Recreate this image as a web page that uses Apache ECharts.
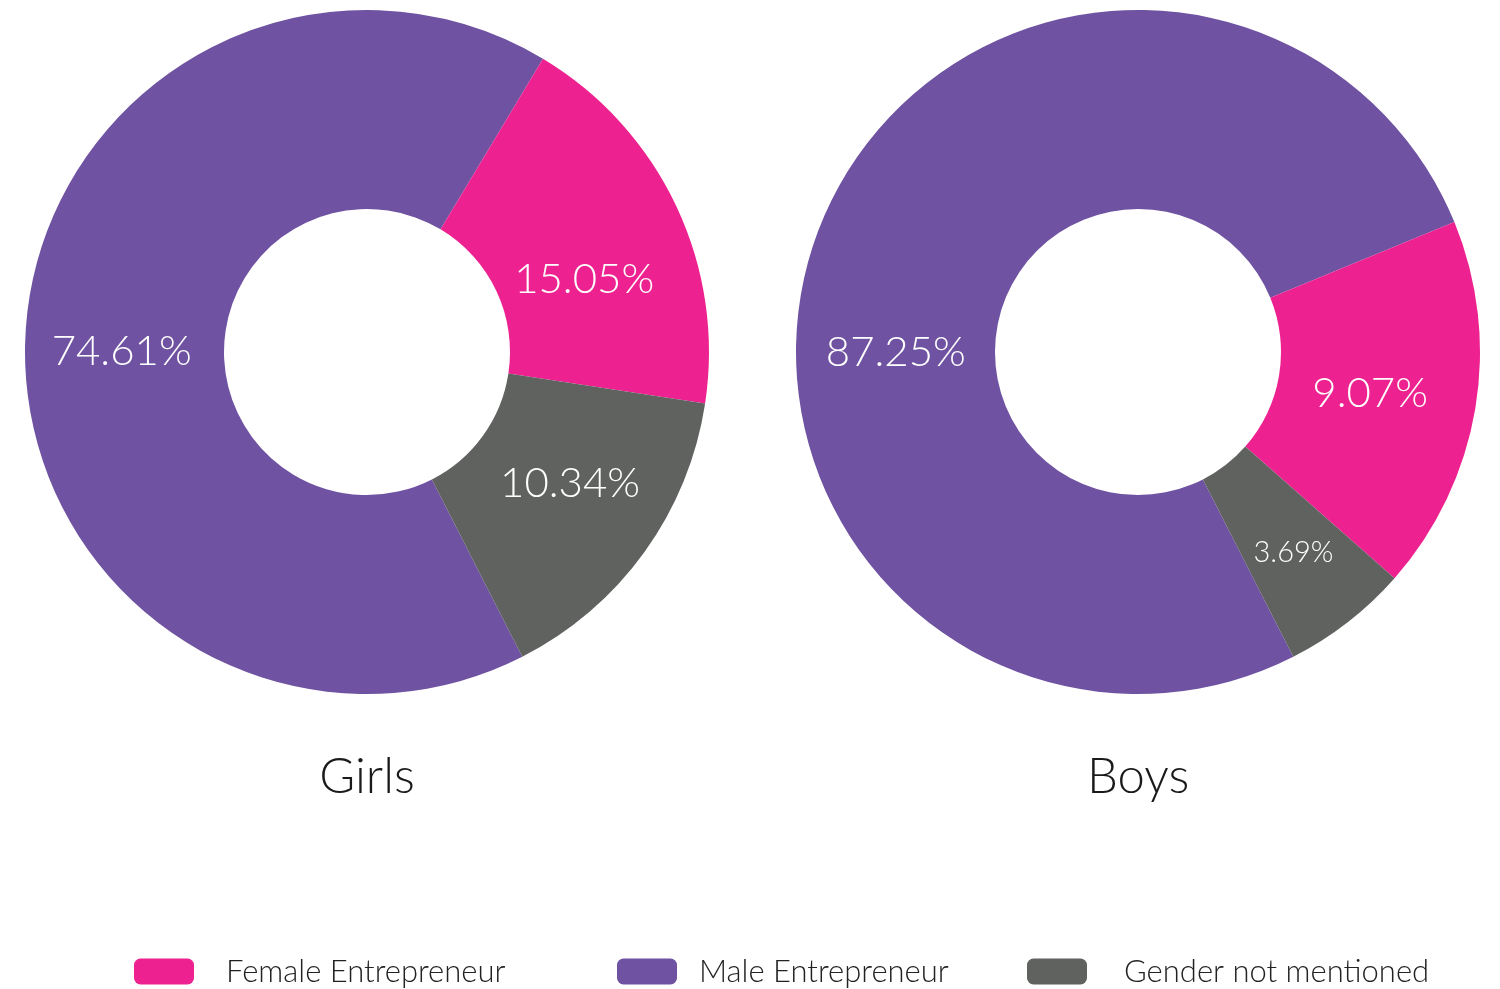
<!DOCTYPE html>
<html>
<head>
<meta charset="utf-8">
<script src="https://cdn.jsdelivr.net/npm/echarts@6/dist/echarts.min.js"></script>
<style>
  html, body { margin: 0; padding: 0; background: #fff; }
  #chart { width: 1500px; height: 989px; }
</style>
</head>
<body>
<div id="chart"></div>
<script>
// categories in drawing order (clockwise from the lower left)
const categories = ['Male Entrepreneur', 'Female Entrepreneur', 'Gender not mentioned']
const legendOrder = ['Female Entrepreneur', 'Male Entrepreneur', 'Gender not mentioned']
const colors = ['#6f52a1', '#ed2290', '#606260']

// slice sizes as drawn in the picture
const girlsSlices = [66.1, 18.8, 15.1]
const boysSlices = [76.3, 17.7, 6.0]
// printed labels
const girlsLabels = ['74.61%', '15.05%', '10.34%']
const boysLabels = ['87.25%', '9.07%', '3.69%']

const font = 'Lato, "Noto Sans", sans-serif'

function buildData(values, labels, offsets, sizes) {
	return values.map((v, i) => ({
		name: categories[i],
		value: v,
		itemStyle: { color: colors[i] },
		label: {
			formatter: labels[i],
			fontSize: sizes[i],
			offset: offsets[i]
		}
	}))
}

function pie(center, data) {
	return {
		type: 'pie',
		center: center,
		radius: [143, 342],
		startAngle: -63,
		clockwise: true,
		silent: true,
		animation: false,
		label: {
			show: true,
			position: 'inside',
			color: '#fff',
			fontFamily: font,
			fontWeight: 300
		},
		labelLine: { show: false },
		itemStyle: { borderWidth: 0 },
		emphasis: { disabled: true },
		data: data
	}
}

function legendItem(name, left, gap) {
	return {
		data: [name],
		left: left,
		top: 956,
		padding: 0,
		itemWidth: 60,
		itemHeight: 26,
		icon: 'roundRect',
		selectedMode: false,
		textStyle: {
			fontFamily: font,
			fontWeight: 300,
			fontSize: 31,
			color: '#222',
			padding: [0, 0, 0, gap]
		}
	}
}

const titleStyle = { fontFamily: font, fontWeight: 300, fontSize: 49, color: '#1a1a1a' }

const chart = echarts.init(document.getElementById('chart'))
chart.setOption({
	backgroundColor: '#fff',
	title: [
		{ text: 'Girls', left: '24.47%', top: 753, padding: 0, textAlign: 'center', textStyle: titleStyle },
		{ text: 'Boys', left: '75.87%', top: 753, padding: 0, textAlign: 'center', textStyle: titleStyle }
	],
	legend: [
		legendItem(legendOrder[0], 134, 27),
		legendItem(legendOrder[1], 617, 17),
		legendItem(legendOrder[2], 1027, 32)
	],
	series: [
		pie([367, 352], buildData(girlsSlices, girlsLabels,
			[[0, 8], [-5, 32], [4, -12]], [42, 42, 42])),
		pie([1138, 352], buildData(boysSlices, boysLabels,
			[[-12, 86], [-10, 1], [5, 7]], [42, 42, 29]))
	]
})
</script>
</body>
</html>
